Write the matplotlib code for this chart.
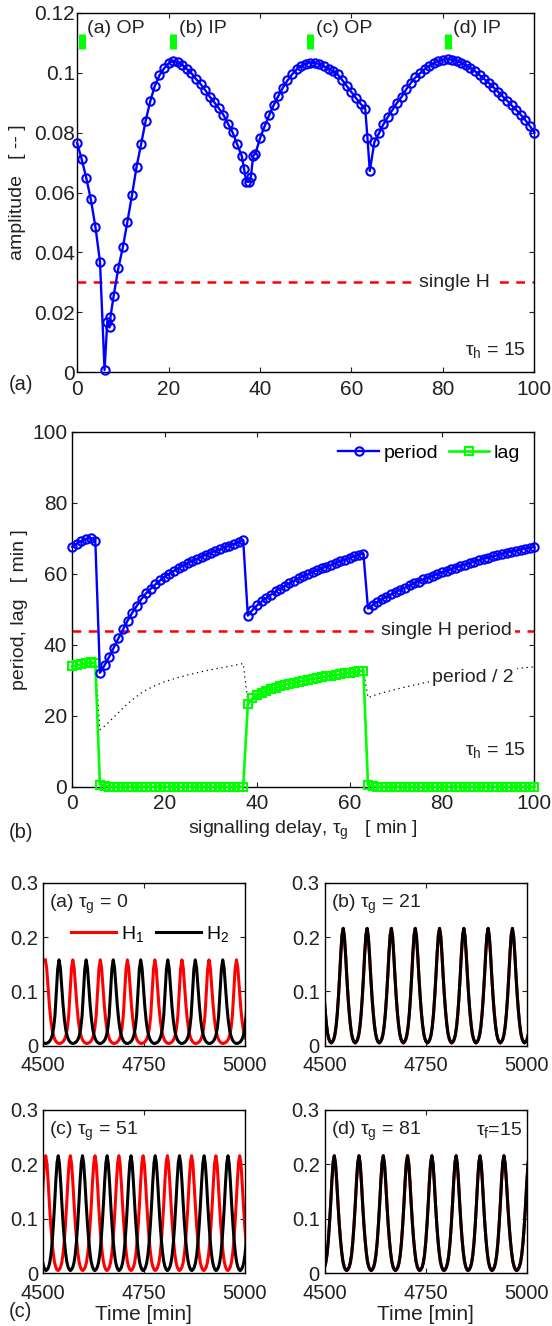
import numpy as np
import matplotlib
matplotlib.use('Agg')
import matplotlib.pyplot as plt

plt.rcParams['font.family'] = ['Liberation Sans', 'DejaVu Sans']
plt.rcParams['mathtext.fontset'] = 'custom'
plt.rcParams['mathtext.rm'] = 'Liberation Sans'
plt.rcParams['mathtext.it'] = 'Liberation Sans'
plt.rcParams['mathtext.sf'] = 'Liberation Sans'

# panel (a): amplitude vs signalling delay
amp_delay = [0, 1, 2, 3, 4, 5, 6, 6.6, 7.1, 7.3, 8, 9, 10, 11, 12, 13, 14, 15, 16, 17,
             18, 19, 20, 21, 22, 23, 24, 25, 26, 27, 28, 29, 30, 31, 32, 33, 34, 35, 36,
             36.5, 37, 37.5, 38, 38.5, 39, 40, 41, 42, 43, 44, 45, 46, 47, 48, 49, 50,
             51, 52, 53, 54, 55, 56, 57, 58, 59, 60, 61, 62, 63, 63.5, 64, 65, 66, 67,
             68, 69, 70, 71, 72, 73, 74, 75, 76, 77, 78, 79, 80, 81, 82, 83, 84, 85, 86,
             87, 88, 89, 90, 91, 92, 93, 94, 95, 96, 97, 98, 99, 100]
amp_value = [0.0766, 0.0711, 0.0649, 0.0577, 0.0486, 0.0369, 0.0008, 0.0169, 0.0150, 0.0186,
             0.0256, 0.0347, 0.0417, 0.0503, 0.0591, 0.0686, 0.0762, 0.0840, 0.0905, 0.0956,
             0.0991, 0.1014, 0.1031, 0.1039, 0.1035, 0.1026, 0.1012, 0.0998, 0.0979, 0.0962,
             0.0942, 0.0920, 0.0901, 0.0881, 0.0859, 0.0829, 0.0801, 0.0761, 0.0722,
             0.0680, 0.0636, 0.0636, 0.0652, 0.0722, 0.0730, 0.0781, 0.0821, 0.0858, 0.0892,
             0.0922, 0.0950, 0.0974, 0.0994, 0.1011, 0.1023, 0.1030, 0.1033, 0.1032, 0.1029,
             0.1021, 0.1013, 0.1004, 0.0994, 0.0975, 0.0955, 0.0935, 0.0915, 0.0896, 0.0880,
             0.0781, 0.0672, 0.0768, 0.0797, 0.0828, 0.0853, 0.0877, 0.0900, 0.0920, 0.0945,
             0.0966, 0.0984, 0.0998, 0.1012, 0.1023, 0.1031, 0.1038, 0.1043, 0.1045, 0.1043,
             0.1039, 0.1033, 0.1025, 0.1016, 0.1005, 0.0992, 0.0979, 0.0966, 0.0952, 0.0937,
             0.0922, 0.0907, 0.0891, 0.0876, 0.0860, 0.0842, 0.0822, 0.0800]

mark_delay = [1, 21, 51, 81]
mark_label = ['(a) OP', '(b) IP', '(c) OP', '(d) IP']

# panel (b): period and lag vs signalling delay
delay = list(range(0, 101))
period = [67.6, 68.5, 69.2, 69.8, 70.1, 69.3, 32.1, 34.2, 36.6, 39.2,
          41.8, 44.3, 46.8, 49.0, 51.0, 52.9, 54.5, 55.8, 57.0, 58.1,
          59.2, 60.0, 60.8, 61.6, 62.3, 63.0, 63.6, 64.2, 64.8, 65.4,
          65.9, 66.4, 66.9, 67.4, 67.9, 68.4, 68.9, 69.4, 48.2, 49.8,
          51.1, 52.2, 53.2, 54.1, 55.0, 55.8, 56.6, 57.3, 58.0, 58.7,
          59.3, 59.9, 60.5, 61.0, 61.5, 62.0, 62.5, 63.0, 63.5, 64.0,
          64.4, 64.9, 65.3, 65.7, 50.2, 51.2, 52.0, 52.8, 53.5, 54.2,
          54.9, 55.5, 56.1, 56.7, 57.3, 57.8, 58.4, 58.9, 59.4, 59.9,
          60.4, 60.8, 61.3, 61.7, 62.2, 62.6, 63.0, 63.4, 63.8, 64.2,
          64.5, 64.9, 65.2, 65.6, 65.9, 66.2, 66.5, 66.8, 67.1, 67.3, 67.5]
lag = [33.9, 34.2, 34.5, 34.8, 35.0, 34.9, 0.6, 0.3, 0, 0,
       0, 0, 0, 0, 0, 0, 0, 0, 0, 0,
       0, 0, 0, 0, 0, 0, 0, 0, 0, 0,
       0, 0, 0, 0, 0, 0, 0, 0, 23.2, 24.9,
       25.8, 26.4, 27.0, 27.5, 27.9, 28.3, 28.7, 29.0, 29.3, 29.6,
       29.9, 30.2, 30.4, 30.7, 30.9, 31.1, 31.3, 31.5, 31.7, 31.9,
       32.1, 32.3, 32.5, 32.7, 0.5, 0.2, 0, 0, 0, 0,
       0, 0, 0, 0, 0, 0, 0, 0, 0, 0,
       0, 0, 0, 0, 0, 0, 0, 0, 0, 0,
       0, 0, 0, 0, 0, 0, 0, 0, 0, 0, 0]

single_h_amp = 0.03
single_h_period = 44

# panel (c): time courses, one pulse shape per peak (fraction of peak height)
shape_offset = np.linspace(-0.5, 0.5, 21)
shape_small = [0.000, 0.003, 0.010, 0.025, 0.050, 0.095, 0.180, 0.330, 0.600, 0.890, 1.000,
               0.900, 0.680, 0.450, 0.280, 0.160, 0.090, 0.045, 0.020, 0.006, 0.000]
shape_big = [0.000, 0.010, 0.030, 0.070, 0.140, 0.250, 0.400, 0.580, 0.780, 0.940, 1.000,
             0.930, 0.770, 0.580, 0.410, 0.270, 0.160, 0.080, 0.035, 0.010, 0.000]

ts_tag = ['(a)', '(b)', '(c)', '(d)']
ts_delay = [0, 21, 51, 81]
ts_high = [0.158, 0.216, 0.216, 0.216]
ts_low = [0.004, 0.005, 0.005, 0.005]
peaks_h1 = [[4506, 4574, 4642, 4709, 4777, 4844, 4911, 4979, 5047],
            [4487, 4546, 4605, 4665, 4724, 4784, 4844, 4904, 4964, 5024],
            [4447, 4507, 4568, 4629, 4688, 4748, 4808, 4868, 4928, 4987, 5047],
            [4464, 4524, 4585, 4645, 4705, 4765, 4825, 4884, 4943, 5006]]
peaks_h2 = [[4472, 4540, 4607, 4674, 4742, 4809, 4877, 4945, 5013],
            [4487, 4546, 4605, 4665, 4724, 4784, 4844, 4904, 4964, 5024],
            [4478, 4538, 4598, 4659, 4718, 4778, 4838, 4899, 4958, 5018],
            [4464, 4524, 4585, 4645, 4705, 4765, 4825, 4884, 4943, 5006]]


def trace(peaks, shape, low, high):
    """chain pulses between successive peaks"""
    half = len(shape) // 2
    t, y = [], []
    for p0, p1 in zip(peaks[:-1], peaks[1:]):
        gap = p1 - p0
        for k in range(half, len(shape)):
            t.append(p0 + shape_offset[k] * gap)
            y.append(shape[k])
        for k in range(1, half):
            t.append(p1 + shape_offset[k] * gap)
            y.append(shape[k])
    t.append(peaks[-1])
    y.append(shape[half])
    return t, low + (high - low) * np.array(y)


def style(ax, size=15, xpad=5.5, ypad=3.5):
    ax.tick_params(direction='in', top=True, right=True, length=3.5, width=0.8,
                   labelsize=size, colors='#222222')
    ax.tick_params(axis='x', pad=xpad)
    ax.tick_params(axis='y', pad=ypad)
    for s in ax.spines.values():
        s.set_linewidth(1.0)


fig = plt.figure(figsize=(5.52, 13.26), dpi=100)

# ---- (a)
ax = fig.add_axes([0.1397, 0.7192, 0.8284, 0.2712])
ax.axhline(single_h_amp, color='red', lw=1.8, ls=(0, (3.5, 3)), zorder=1)
ax.plot(amp_delay, amp_value, 'o-', color='blue', lw=1.7, ms=6, mfc='none', mew=1.5,
        zorder=3, clip_on=False)
ax.vlines(mark_delay, 0.108, 0.113, color='#00ff00', lw=5)
for x, lab in zip(mark_delay, mark_label):
    ax.text(x + 1.2, 0.1148, lab, fontsize=14, va='center', color='#222222')
ax.text(74.8, single_h_amp, 'single H', fontsize=14, va='center', color='#222222',
        bbox=dict(facecolor='white', edgecolor='none', pad=2), zorder=2)
ax.text(98.2, 0.0058, r'$\tau_h$ = 15', fontsize=14, ha='right', va='baseline', color='#222222')
ax.set_xlim(0, 100)
ax.set_ylim(0, 0.12)
ax.set_xticks(range(0, 101, 20))
ax.set_yticks([0, 0.02, 0.04, 0.06, 0.08, 0.1, 0.12])
ax.set_yticklabels(['0', '0.02', '0.04', '0.06', '0.08', '0.1', '0.12'])
ax.set_ylabel('amplitude   [ -- ]', fontsize=14, color='#222222')
ax.yaxis.set_label_coords(-0.111, 0.5)
style(ax, ypad=1.5)

# ---- (b)
ax = fig.add_axes([0.1308, 0.4067, 0.8373, 0.2677])
half_period = [p / 2 for p in period]
ax.axhline(single_h_period, color='red', lw=1.8, ls=(0, (3.5, 3)), zorder=1)
ax.plot(delay, half_period, color='black', lw=0.9, ls=(0, (1, 3)), zorder=1)
lp, = ax.plot(delay, period, 'o-', color='blue', lw=1.7, ms=6, mfc='none', mew=1.5,
              zorder=4, label='period', clip_on=False)
ll, = ax.plot(delay, lag, 's-', color='#00ff00', lw=1.9, ms=6, mfc='none', mew=1.5,
              zorder=3, label='lag', clip_on=False)
ax.text(66.9, single_h_period, 'single H period', fontsize=14, va='center', color='#222222',
        bbox=dict(facecolor='white', edgecolor='none', pad=2), zorder=2)
ax.text(77.9, 30.8, 'period / 2', fontsize=14, va='center', color='#222222',
        bbox=dict(facecolor='white', edgecolor='none', pad=2), zorder=2)
ax.text(98.2, 8.9, r'$\tau_h$ = 15', fontsize=14, ha='right', va='baseline', color='#222222')
ax.legend(handles=[lp, ll], loc='center right', bbox_to_anchor=(0.9695, 0.939), ncol=2,
          frameon=False, fontsize=14, handlelength=2.08, handletextpad=0.24,
          columnspacing=0.55, borderpad=0, borderaxespad=0)
ax.set_xlim(0, 100)
ax.set_ylim(0, 100)
ax.set_xticks(range(0, 101, 20))
ax.set_yticks(range(0, 101, 20))
ax.set_ylabel('period, lag   [ min ]', fontsize=14, color='#222222')
ax.yaxis.set_label_coords(-0.095, 0.5)
ax.set_xlabel(r'signalling delay, $\tau_g$   [ min ]', fontsize=14, color='#222222')
ax.xaxis.set_label_coords(0.5, -0.089)
style(ax)

# ---- (c)
boxes = [[0.0777, 0.2114, 0.3661, 0.1229], [0.5880, 0.2114, 0.3667, 0.1229],
         [0.0777, 0.0397, 0.3661, 0.1232], [0.5880, 0.0397, 0.3667, 0.1232]]
for i in range(4):
    ax = fig.add_axes(boxes[i])
    shape = shape_small if ts_delay[i] == 0 else shape_big
    t1, y1 = trace(peaks_h1[i], shape, ts_low[i], ts_high[i])
    t2, y2 = trace(peaks_h2[i], shape, ts_low[i], ts_high[i])
    h1, = ax.plot(t1, y1, color='red', lw=2.2, label='H$_1$')
    h2, = ax.plot(t2, y2, color='black', lw=2.2, label='H$_2$')
    ax.text(4516, 0.254, ts_tag[i] + r' $\tau_g$ = ' + str(ts_delay[i]), fontsize=14,
            va='baseline', color='#222222')
    if i == 0:
        ax.legend(handles=[h1, h2], loc='center left', bbox_to_anchor=(0.1415, 0.685), ncol=2,
                  frameon=False, fontsize=14, handlelength=2.3, handletextpad=0.27,
                  columnspacing=0.61, borderpad=0, borderaxespad=0)
    if i == 3:
        ax.text(4987, 0.254, r'$\tau_f$=15', fontsize=14, ha='right', va='baseline',
                color='#222222')
    ax.set_xlim(4500, 5000)
    ax.set_ylim(0, 0.3)
    ax.set_xticks([4500, 4750, 5000])
    ax.set_yticks([0, 0.1, 0.2, 0.3])
    ax.set_yticklabels(['0', '0.1', '0.2', '0.3'])
    if i >= 2:
        ax.set_xlabel('Time [min]', fontsize=15, color='#222222')
        ax.xaxis.set_label_coords(0.5, -0.194)
    style(ax, size=14.5, xpad=7.5)

fig.text(0.0163, 0.7097, '(a)', fontsize=14.5, va='center', color='#222222')
fig.text(0.0163, 0.372, '(b)', fontsize=14.5, va='center', color='#222222')
fig.text(0.0163, 0.0108, '(c)', fontsize=14.5, va='center', color='#222222')

fig.savefig('out.png', dpi=100)
